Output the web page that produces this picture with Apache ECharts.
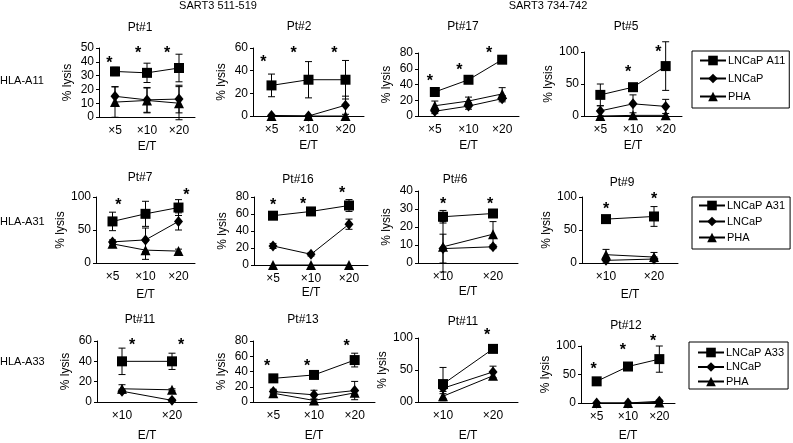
<!DOCTYPE html>
<html><head><meta charset="utf-8">
<script src="https://cdn.jsdelivr.net/npm/echarts@6/dist/echarts.min.js"></script>
<style>html,body{margin:0;padding:0;background:#fff}#c{width:793px;height:443px}</style>
</head><body><div id="c"></div>
<script>
// ---------- data ----------
const cats3 = ['×5', '×10', '×20'];
const cats2 = ['×10', '×20'];
const titles = ['Pt#1','Pt#2','Pt#17','Pt#5','Pt#7','Pt#16','Pt#6','Pt#9','Pt#11','Pt#13','Pt#11','Pt#12'];
const panelCats = [cats3,cats3,cats3,cats3,cats3,cats3,cats2,cats2,cats2,cats3,cats2,cats3];
const yMax  = [50,60,80,100,100,80,40,100,60,80,100,100];
const yStep = [10,20,20,50,50,20,10,50,20,20,50,50];
const squareNames = ['LNCaP A11','LNCaP A31','LNCaP A33'];
const diamondName = 'LNCaP';
const triangleName = 'PHA';
const rowLabels = ['HLA-A11','HLA-A31','HLA-A33'];
const headers = ['SART3 511-519','SART3 734-742'];

const squareMean = [
  [33,32,35.5],[27,32,32],[30.5,46,71.5],[33,45,78],
  [63,74.5,84],[58,63,70],[25.7,27.5],[66.5,70.5],
  [40,40],[31,35.5,55],[28,83],[38,64,77]];
const squareErr = [
  [3,7,10],[10,16,17],[3,3,2],[17,3,38],
  [14,19,12],[3,3,7],[3.5,2],[3,15],
  [13,8],[5,2,9],[26,3],[3,4,23]];
const diamondMean = [
  [15,12.4,13],[0.5,0,9.5],[6,12.6,22],[8,19,15],
  [32,35,63],[22.4,12.6,48],[8,9],[4,6],
  [10.6,1.6],[13.7,9.4,15],[21.5,47],[0,0,3]];
const diamondErr = [
  [7,9,10],[0,0,8],[3,4,4],[8,14,11],
  [3,18,13],[3,2,6],[8,1],[4,3],
  [2,1],[3,6,12],[5,9],[0,0,2]];
const triMean = [
  [10.8,12,10],[0,0,0],[13,19,28],[0,1,1],
  [29,19.5,18],[0,0,0],[9,16],[12.6,9],
  [13,12],[11.5,2,12],[9,41],[0,0,1]];
const triErr = [
  [11,9,12],[0,0,0],[6,5,8],[0,0,0],
  [3,14,3],[0,0,0],[14,7],[8,7],
  [4,1],[2,2,2],[4,6],[0,0,1]];
// significance stars: y value and horizontal offset (in category widths) per E/T
const starY = [
  [41,48,48],[49.5,58,58],[47,61,83.5],[null,72,104],
  [92,null,106],[74,75,87],[34,34],[85,100],
  [58,58],[50,51,76],[null,108],[64,97,113]];
const starOff = [
  [-0.18,-0.28,-0.37],[-0.22,-0.4,-0.3],[-0.15,-0.27,-0.39],[null,-0.15,-0.22],
  [0.18,null,0.24],[0,-0.21,-0.18],[0,-0.06],[0,0],
  [0.2,0.18],[-0.15,-0.17,-0.2],[null,-0.12],[-0.1,-0.16,-0.2]];

// ---------- layout ----------
const grids = [
  [99,48,96,69],[253,48,111,68],[418,53,101,63],[584,52,98,64],
  [96,197,99,66],[254,197,114,68],[418,191,100,72],[582,197,96,66],
  [97,341,100,62],[253,341,122,62],[418,338,100,65],[581,346,94,59]];
const titlePos = [
  [140,28],[299,27],[463,27],[626,27],
  [140,178],[298,180],[455,180],[622,183],
  [140,320],[303,320],[463,322],[626,326]];
const etGap = [24,24,24,24, 26,22,23,26, 28,28,28,27];

const FONT = "'Liberation Sans', Arial, sans-serif";
const BLACK = '#000';

function renderErr(params, api) {
  const x = api.value(0), m = api.value(1), e = api.value(2);
  if (!e) return null;
  const t = api.coord([x, m + e]), b = api.coord([x, m - e]);
  const w = 3.5, st = {stroke: BLACK, lineWidth: 1};
  return {type: 'group', children: [
    {type: 'line', shape: {x1: t[0], y1: t[1], x2: b[0], y2: b[1]}, style: st},
    {type: 'line', shape: {x1: t[0]-w, y1: t[1], x2: t[0]+w, y2: t[1]}, style: st},
    {type: 'line', shape: {x1: b[0]-w, y1: b[1], x2: b[0]+w, y2: b[1]}, style: st}
  ]};
}
function renderStar(params, api) {
  const x = api.value(0), off = api.value(1), y = api.value(2);
  const p = api.coord([x, y]);
  const bw = api.size([1, 0])[0];
  return {type: 'text', x: p[0] + off * bw, y: p[1] + 3,
    style: {text: '*', fontSize: 16, fontWeight: 'bold', fontFamily: FONT, fill: BLACK,
      align: 'center', verticalAlign: 'middle'}};
}

const option = {
  animation: false,
  backgroundColor: '#fff',
  textStyle: {fontFamily: FONT, color: BLACK},
  grid: [], xAxis: [], yAxis: [], series: [], graphic: [],
  legend: []
};

for (let i = 0; i < 12; i++) {
  const g = grids[i];
  const row = Math.floor(i / 4);
  option.grid.push({left: g[0], top: g[1], width: g[2], height: g[3], containLabel: false});
  option.xAxis.push({
    type: 'category', gridIndex: i, data: panelCats[i], boundaryGap: true,
    axisLine: {lineStyle: {color: BLACK, width: 1}},
    axisTick: {inside: true, length: 3, lineStyle: {color: BLACK}},
    axisLabel: {color: BLACK, fontSize: 12, margin: 8, fontFamily: FONT},
    name: 'E/T', nameLocation: 'middle', nameGap: etGap[i],
    nameTextStyle: {color: BLACK, fontSize: 12, fontFamily: FONT}
  });
  const yAx = {
    type: 'value', gridIndex: i, min: 0, max: yMax[i], interval: yStep[i],
    splitLine: {show: false},
    axisLine: {show: true, lineStyle: {color: BLACK, width: 1}},
    axisTick: {show: true, inside: false, length: 3, lineStyle: {color: BLACK}},
    axisLabel: {color: BLACK, fontSize: 12, margin: 5, fontFamily: FONT},
    name: '% lysis', nameLocation: 'middle', nameGap: 25, nameRotate: 90,
    nameTextStyle: {color: BLACK, fontSize: 12, fontFamily: FONT}
  };
  if (i === 10) yAx.axisLabel.formatter = v => (v === 0 ? '00' : String(v));
  option.yAxis.push(yAx);

  const n = panelCats[i].length;
  const errData = [];
  for (let k = 0; k < n; k++) {
    errData.push([k, squareMean[i][k], squareErr[i][k]]);
    errData.push([k, diamondMean[i][k], diamondErr[i][k]]);
    errData.push([k, triMean[i][k], triErr[i][k]]);
  }
  option.series.push({type: 'custom', xAxisIndex: i, yAxisIndex: i, z: 1,
    renderItem: renderErr, data: errData, encode: {x: 0, y: 1}, silent: true});

  const lineBase = {type: 'line', xAxisIndex: i, yAxisIndex: i, z: 3,
    lineStyle: {color: BLACK, width: 1}, itemStyle: {color: BLACK, borderWidth: 0}};
  option.series.push(Object.assign({}, lineBase, {name: squareNames[row], data: squareMean[i],
    symbol: 'rect', symbolSize: 10}));
  option.series.push(Object.assign({}, lineBase, {name: diamondName, data: diamondMean[i],
    symbol: 'diamond', symbolSize: [9, 11]}));
  option.series.push(Object.assign({}, lineBase, {name: triangleName, data: triMean[i],
    symbol: 'triangle', symbolSize: 10}));

  const starData = [];
  for (let k = 0; k < n; k++) {
    if (starY[i][k] != null) starData.push([k, starOff[i][k], starY[i][k]]);
  }
  option.series.push({type: 'custom', xAxisIndex: i, yAxisIndex: i, z: 4,
    renderItem: renderStar, data: starData, encode: {x: 0, y: 2}, silent: true});

  option.graphic.push({type: 'text', x: titlePos[i][0], y: titlePos[i][1],
    style: {text: titles[i], fontSize: 12, fontFamily: FONT, fill: BLACK, align: 'center', verticalAlign: 'middle'}});
}

// headers and row labels
const headerPos = [[218, 6], [548, 6]];
headers.forEach((h, k) => option.graphic.push({type: 'text', x: headerPos[k][0], y: headerPos[k][1],
  style: {text: h, fontSize: 11, fontFamily: FONT, fill: BLACK, align: 'center', verticalAlign: 'middle'}}));
const rowLabelY = [81, 222, 362];
rowLabels.forEach((r, k) => option.graphic.push({type: 'text', x: 0, y: rowLabelY[k],
  style: {text: r, fontSize: 11, fontFamily: FONT, fill: BLACK, align: 'left', verticalAlign: 'middle'}}));

// legends
const legendLayout = [
  {left: 692, top: 51, itemGap: 7, padding: [4, 4, 6, 7]},
  {left: 692, top: 197, itemGap: 5, padding: [3, 5, 6, 6]},
  {left: 689, top: 342, itemGap: 3.5, padding: [5, 4, 2, 8]}];
legendLayout.forEach((L, k) => option.legend.push({
  orient: 'vertical', left: L.left, top: L.top, itemGap: L.itemGap, padding: L.padding,
  itemWidth: 26, itemHeight: 12, borderColor: BLACK, borderWidth: 1,
  selectedMode: false,
  data: [squareNames[k], diamondName, triangleName],
  textStyle: {color: BLACK, fontSize: 11, fontFamily: FONT, padding: [0, 0, 0, -3]}
}));

const chart = echarts.init(document.getElementById('c'), null, {renderer: 'canvas'});
chart.setOption(option);
</script>
</body></html>
